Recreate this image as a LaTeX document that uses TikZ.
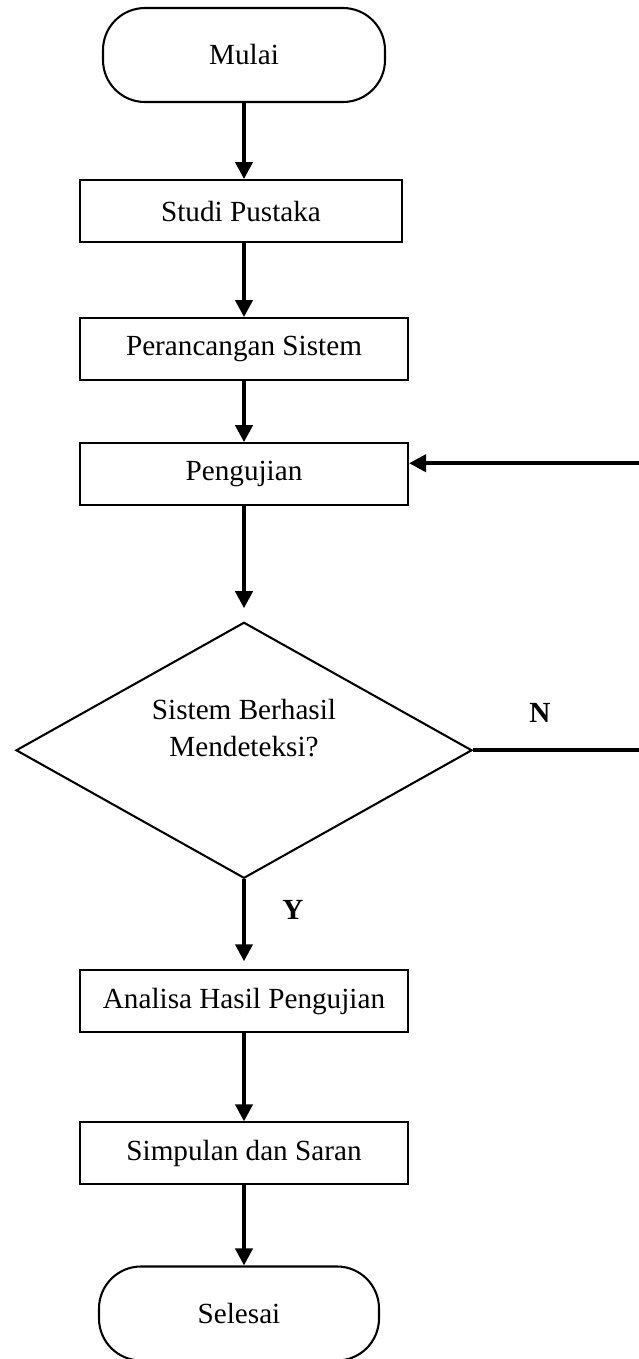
\documentclass[tikz,border=0pt]{standalone}
\usepackage{fontspec}
\setmainfont{Liberation Serif}
\usetikzlibrary{arrows.meta, positioning, shapes.geometric}
\newdimen\pxu
\pxu=0.411pt

\begin{document}
\begin{tikzpicture}[x=\pxu, y=-\pxu, >={Triangle[length=7pt,width=7pt]},
    font=\fontsize{12}{15}\selectfont,
    process/.style={draw, line width=0.85pt, minimum width=328\pxu, minimum height=62\pxu, inner sep=0pt},
    terminal/.style={draw, line width=0.85pt, rounded corners=42\pxu, minimum width=282\pxu, minimum height=94\pxu, inner sep=0pt},
    decision/.style={draw, diamond, line width=0.85pt, minimum width=456\pxu, minimum height=256\pxu, inner sep=0pt},
    answer/.style={font=\fontsize{12}{15}\selectfont\bfseries},
    flow/.style={->, line width=1.6pt}]
\useasboundingbox (0,0) rectangle (638,1359);
% define the steps of the flow
  \node[terminal] (mulai) at (244,55) {Mulai};
  \node[process, minimum width=322\pxu] (studi) [below=76\pxu of mulai, xshift=-3\pxu] {Studi Pustaka};
  \node[process] (rancang) [below=74\pxu of studi, xshift=3\pxu] {Perancangan Sistem};
  \node[process] (uji) [below=61\pxu of rancang] {Pengujian};
  \node[decision] (cek) [below=115\pxu of uji] {};
  \node[align=center] (cektxt) at ([yshift=22\pxu]cek.center) {Sistem Berhasil\\Mendeteksi?};
  \node[process] (analisa) [below=90\pxu of cek] {Analisa Hasil Pengujian};
  \node[process] (simpul) [below=88\pxu of analisa] {Simpulan dan Saran};
  \node[terminal, minimum width=280\pxu] (selesai) [below=80\pxu of simpul, xshift=-5\pxu] {Selesai};

% define the answers
  \node[answer] (tidak) at (540,713) {N};
  \node[answer] (ya) at (293,910) {Y};

% define the links
  \coordinate (masuk) at ([yshift=11\pxu]uji.east);
  \coordinate (balik) at ([xshift=190\pxu]cek.east);
  \draw[flow] (mulai) -- (mulai |- studi.north);
  \draw[flow] (studi.south -| rancang) -- (rancang);
  \draw[flow] (rancang) -- (uji);
  \draw[flow, shorten >=13\pxu] (uji) -- (cek);
  \draw[flow, shorten >=8\pxu] (cek) -- (analisa);
  \draw[flow] (analisa) -- (simpul);
  \draw[flow] (simpul) -- (simpul |- selesai.north);
  \draw[flow] (cek.east) -- (balik) |- (masuk);
\end{tikzpicture}
\end{document}
